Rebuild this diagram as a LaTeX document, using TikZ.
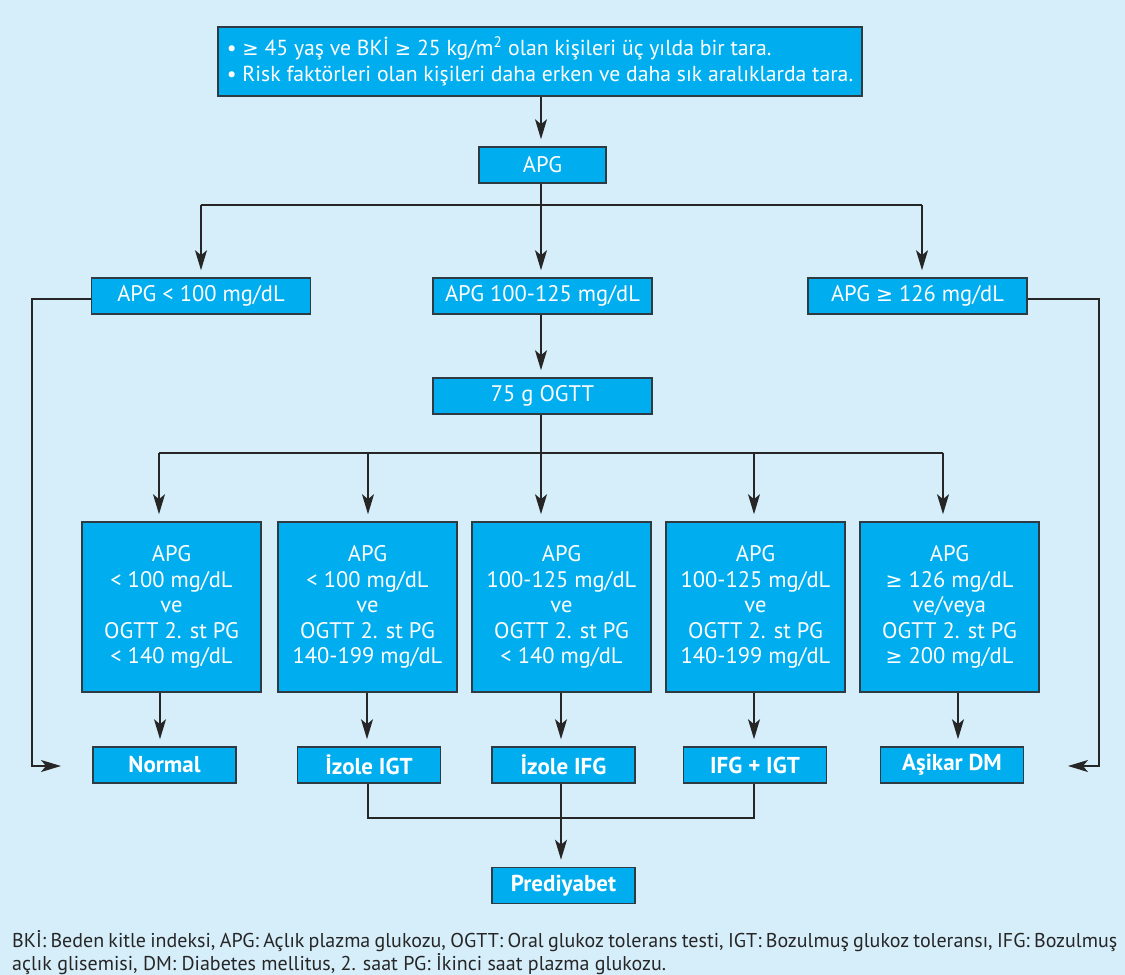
\documentclass[tikz,border=0pt]{standalone}
\usepackage{fontspec}
\setmainfont{PT Sans}
\newfontfamily\symf[Scale=0.9]{DejaVu Sans}
\newcommand\gte{{\symf ≥}}
\usetikzlibrary{arrows.meta}
\definecolor{bgc}{HTML}{D6EEFA}
\definecolor{boxc}{HTML}{00AEEF}
\definecolor{edgec}{HTML}{2E3B43}
\begin{document}
\begin{tikzpicture}[x=1pt,y=-1pt,
  box/.style={draw=edgec, line width=1.6pt, fill=boxc, text=white, inner sep=0pt,
    font=\fontsize{22.5}{25.5}\selectfont, align=center, minimum height=36pt},
  bigbox/.style={box, minimum width=179pt, minimum height=170pt},
  midbox/.style={box, minimum width=219pt},
  resbox/.style={box, minimum width=143pt, font=\fontsize{23}{25}\selectfont\bfseries},
  conn/.style={line width=1.3pt, draw=black!85},
  arr/.style={conn, -{Stealth[length=20pt,width=12pt,inset=5pt]}, shorten >=7pt}]
\fill[bgc] (0,0) rectangle (1125,975);
\useasboundingbox (0,0) rectangle (1125,975);

% nodes
\node[box, minimum width=644pt, minimum height=69pt, align=left,
  font=\fontsize{21.7}{26.5}\selectfont] (top) at (540,61.5)
  {• \gte{} 45 yaş ve BKİ \gte{} 25 kg/m\textsuperscript{2} olan kişileri üç yılda bir tara.\\
   • Risk faktörleri olan kişileri daha erken ve daha sık aralıklarda tara.};
\node[box, minimum width=127pt] (apg) at (542.5,165) {APG};
\node[midbox] (a1) at (201,296) {APG < 100 mg/dL};
\node[midbox] (a2) at (542.5,296) {APG 100-125 mg/dL};
\node[midbox] (a3) at (917.5,296) {APG \gte{} 126 mg/dL};
\node[midbox] (ogtt) at (542.5,396) {75 g OGTT};

\node[bigbox] (b1) at (171.5,607) {APG\\< 100 mg/dL\\ve\\OGTT 2. st PG\\< 140 mg/dL};
\node[bigbox] (b2) at (367.5,607) {APG\\< 100 mg/dL\\ve\\OGTT 2. st PG\\140-199 mg/dL};
\node[bigbox] (b3) at (561.5,607) {APG\\100-125 mg/dL\\ve\\OGTT 2. st PG\\< 140 mg/dL};
\node[bigbox] (b4) at (755.5,607) {APG\\100-125 mg/dL\\ve\\OGTT 2. st PG\\140-199 mg/dL};
\node[bigbox] (b5) at (949.5,607) {APG\\\gte{} 126 mg/dL\\ve/veya\\OGTT 2. st PG\\\gte{} 200 mg/dL};

\node[resbox] (n1) at (164.5,765) {Normal};
\node[resbox] (n2) at (369,765) {İzole IGT};
\node[resbox] (n3) at (563.5,765) {İzole IFG};
\node[resbox] (n4) at (755,765) {IFG + IGT};
\node[resbox] (n5) at (952,765) {Aşikar DM};
\node[resbox] (pre) at (563.5,885.5) {Prediyabet};

\node[anchor=north west, text width=1105pt, align=justify, inner sep=0pt,
  font=\fontsize{20}{23}\selectfont, text=black!85] (foot) at (12,930)
  {BKİ: Beden kitle indeksi, APG: Açlık plazma glukozu, OGTT: Oral glukoz tolerans testi, IGT: Bozulmuş glukoz toleransı, IFG: Bozulmuş\linebreak
   açlık glisemisi, DM: Diabetes mellitus, 2. saat PG: İkinci saat plazma glukozu.};

% coordinates
\coordinate (j1) at (541,205);
\coordinate (lc) at (32,299);
\coordinate (le) at (68,766);
\coordinate (rc) at (1099,299);
\coordinate (re) at (1061,766);
\coordinate (j2) at (541,453);
\coordinate (m) at (561,818);

% connectors
\draw[arr] (top.south -| 541,0) -- (apg.north -| 541,0);
\draw[conn] (apg.south -| 541,0) -- (j1);
\draw[conn] (j1 -| 201,0) -- (j1 -| 922,0);
\draw[arr] (j1 -| 201,0) -- (a1.north -| 201,0);
\draw[arr] (j1) -- (a2.north -| 541,0);
\draw[arr] (j1 -| 922,0) -- (a3.north -| 922,0);
\draw[arr] (a1.west |- lc) -- (lc) |- (le);
\draw[arr] (a3.east |- rc) -- (rc) |- (re);
\draw[arr] (a2.south -| 541,0) -- (ogtt.north -| 541,0);
\draw[conn] (ogtt.south -| 541,0) -- (j2);
\draw[conn] (j2 -| 159,0) -- (j2 -| 943,0);
\draw[arr] (j2 -| 159,0) -- (b1.north -| 159,0);
\draw[arr] (j2 -| 368,0) -- (b2.north -| 368,0);
\draw[arr] (j2) -- (b3.north -| 541,0);
\draw[arr] (j2 -| 754,0) -- (b4.north -| 754,0);
\draw[arr] (j2 -| 943,0) -- (b5.north -| 943,0);
\draw[arr] (b1.south -| 160,0) -- (n1.north -| 160,0);
\draw[arr] (b2.south -| 367,0) -- (n2.north -| 367,0);
\draw[arr] (b3.south -| 561,0) -- (n3.north -| 561,0);
\draw[arr] (b4.south -| 754,0) -- (n4.north -| 754,0);
\draw[arr] (b5.south -| 958,0) -- (n5.north -| 958,0);
\draw[conn] (n2.south -| 368,0) |- (m) -| (n4.south -| 754,0);
\draw[arr] (n3.south -| 561,0) -- (pre.north -| 561,0);
\end{tikzpicture}
\end{document}
